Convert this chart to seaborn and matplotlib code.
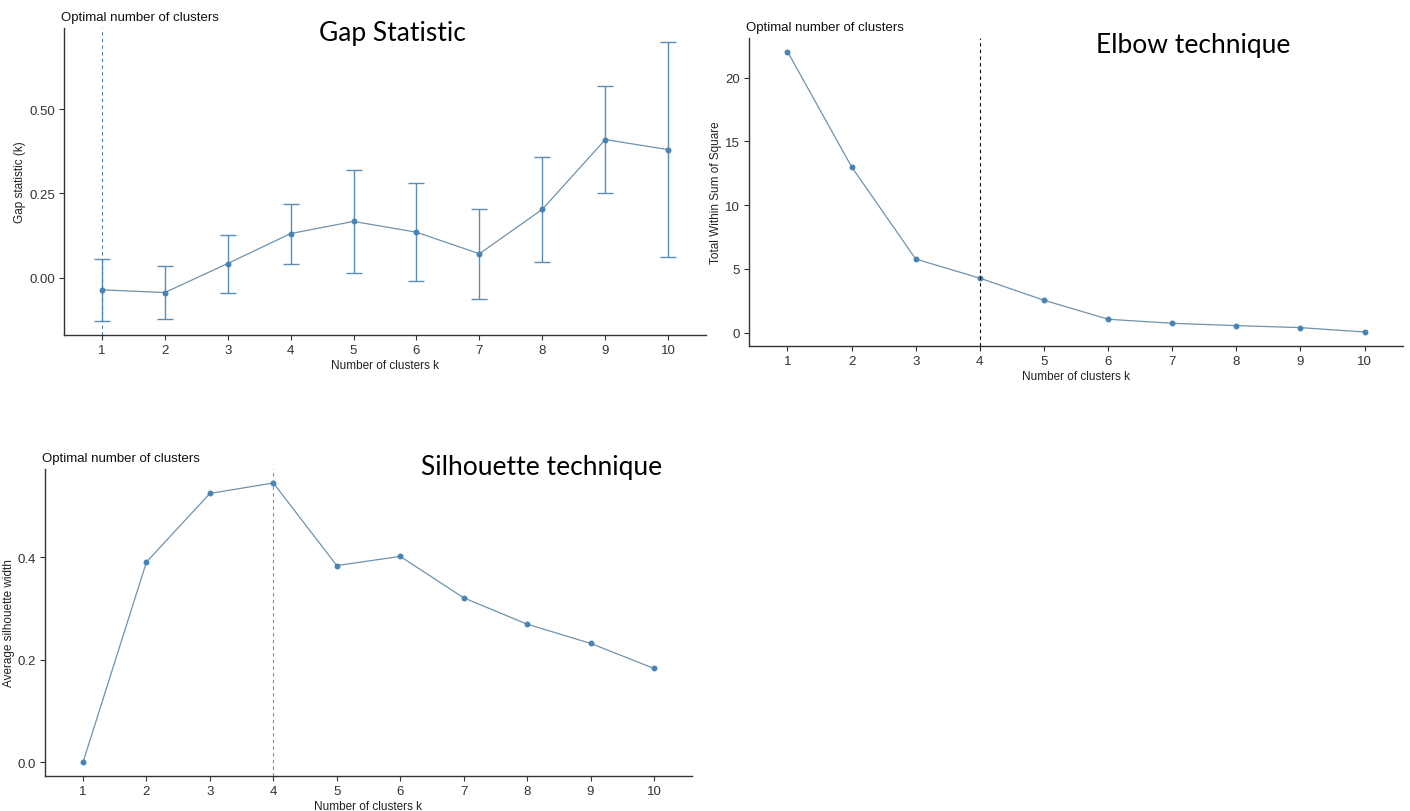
import matplotlib
matplotlib.use("Agg")
import matplotlib.pyplot as plt
import seaborn as sns
import numpy as np
import pandas as pd

# ---- data ----
k_values = [1, 2, 3, 4, 5, 6, 7, 8, 9, 10]
gap_values = [-0.036, -0.044, 0.042, 0.131, 0.167, 0.135, 0.071, 0.203, 0.410, 0.380]
gap_se = [0.093, 0.078, 0.086, 0.089, 0.153, 0.145, 0.134, 0.156, 0.160, 0.320]
wss_values = [22.04, 13.0, 5.77, 4.27, 2.54, 1.05, 0.73, 0.55, 0.39, 0.05]
sil_values = [0.0, 0.391, 0.525, 0.5455, 0.384, 0.402, 0.321, 0.2695, 0.232, 0.183]
gap_opt_k = 1
elbow_opt_k = 4
sil_opt_k = 4
gap_yticks = [0.00, 0.25, 0.50]
gap_yticklabels = ["0.00", "0.25", "0.50"]
wss_yticks = [0, 5, 10, 15, 20]
sil_yticks = [0.0, 0.2, 0.4]
sil_yticklabels = ["0.0", "0.2", "0.4"]
panel_titles = ["Gap Statistic", "Elbow technique", "Silhouette technique"]

sns.set_theme(style="ticks")
plt.rcParams['font.family'] = ['Liberation Sans', 'DejaVu Sans']

LINE = "#4682B4"
W, H = 1410, 812
fig = plt.figure(figsize=(W / 100, H / 100), dpi=100)


def make_ax(l, r, t, b):
    return fig.add_axes([l / W, 1 - b / H, (r - l) / W, (b - t) / H])


def style(ax, ylabel):
    for s in ["top", "right"]:
        ax.spines[s].set_visible(False)
    for s in ["left", "bottom"]:
        ax.spines[s].set_color("#333333")
        ax.spines[s].set_linewidth(1.0)
    ax.tick_params(axis="both", direction="out", length=3.5, width=0.8,
                   color="#333333", labelsize=9.5, labelcolor="#333333", pad=3)
    ax.set_xticks(k_values)
    ax.set_xticklabels([str(k) for k in k_values])
    ax.set_xlim(0.4, 10.6)
    ax.set_xlabel("Number of clusters k", fontsize=8.5, color="#222222", labelpad=2)
    ax.set_ylabel(ylabel, fontsize=8.5, color="#222222", labelpad=2)
    ax.set_title("Optimal number of clusters", loc="left", fontsize=9.5,
                 color="#111111", pad=6, x=-0.005)


big_font = dict(family=["Lato", "DejaVu Sans"], color="black")
mk = dict(marker="o", markersize=3.5, markerfacecolor=LINE, markeredgecolor=LINE)

# ---- Gap statistic ----
ax1 = make_ax(64, 706, 29, 336)
df_gap = pd.DataFrame({"k": k_values, "gap": gap_values, "se": gap_se})
ax1.errorbar(df_gap["k"], df_gap["gap"], yerr=df_gap["se"], fmt="none",
             ecolor="#5b8db5", elinewidth=1.0, capsize=6, capthick=1.0, zorder=2)
sns.lineplot(data=df_gap, x="k", y="gap", ax=ax1, color="#6f93ad", linewidth=0.9,
             zorder=3, **mk)
ax1.axvline(gap_opt_k, color=LINE, linestyle=(0, (3, 3)), linewidth=0.8)
ax1.set_ylim(-0.17, 0.741)
ax1.set_yticks(gap_yticks)
ax1.set_yticklabels(gap_yticklabels)
style(ax1, "Gap statistic (k)")
fig.text(392 / W, 1 - 33 / H, panel_titles[0], ha="center", va="center", fontsize=19, **big_font)

# ---- Elbow ----
ax2 = make_ax(749, 1403, 39, 347)
df_wss = pd.DataFrame({"k": k_values, "wss": wss_values})
sns.lineplot(data=df_wss, x="k", y="wss", ax=ax2, color="#6f93ad", linewidth=0.9, **mk)
ax2.axvline(elbow_opt_k, color="black", linestyle=(0, (3, 3)), linewidth=0.8)
ax2.set_ylim(-1.05, 23.1)
ax2.set_yticks(wss_yticks)
style(ax2, "Total Within Sum of Square")
fig.text(1193 / W, 1 - 45 / H, panel_titles[1], ha="center", va="center", fontsize=19, **big_font)

# ---- Silhouette ----
ax3 = make_ax(45, 692, 470, 777)
df_sil = pd.DataFrame({"k": k_values, "sil": sil_values})
sns.lineplot(data=df_sil, x="k", y="sil", ax=ax3, color="#6f93ad", linewidth=0.9, **mk)
ax3.axvline(sil_opt_k, color="#6f93ad", linestyle=(0, (3, 3)), linewidth=0.8)
ax3.set_ylim(-0.0273, 0.5728)
ax3.set_yticks(sil_yticks)
ax3.set_yticklabels(sil_yticklabels)
style(ax3, "Average silhouette width")
fig.text(542 / W, 1 - 467 / H, panel_titles[2], ha="center", va="center", fontsize=19, **big_font)

fig.savefig("out.png", dpi=100, facecolor="white")
